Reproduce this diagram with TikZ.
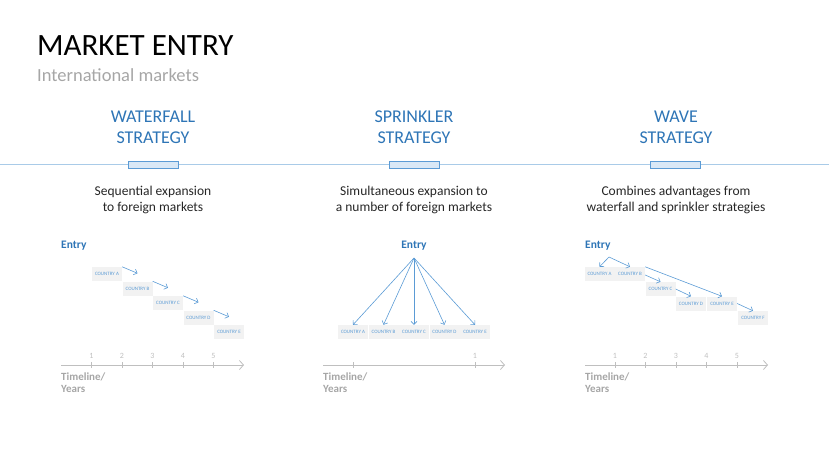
\documentclass[tikz,border=0pt]{standalone}
\usepackage{fontspec}
\setmainfont{Carlito}
\usepackage{tikz}
\usetikzlibrary{arrows.meta}
\definecolor{headblue}{HTML}{2E75B6}
\definecolor{arrowblue}{HTML}{5B9BD5}
\definecolor{lineblue}{HTML}{A9CBE8}
\definecolor{barfill}{HTML}{D9E8F6}
\definecolor{boxgray}{HTML}{F2F2F2}
\definecolor{axisgray}{HTML}{BFBFBF}
\definecolor{textgray}{HTML}{A6A6A6}

\begin{document}
\begin{tikzpicture}[x=1pt, y=-1pt,
        heading/.style={text=headblue, align=center, inner sep=0pt, font=\fontsize{18}{21}\selectfont},
        descr/.style={text=black!85, align=center, inner sep=0pt, font=\fontsize{13.5}{16.5}\selectfont},
        entry/.style={text=headblue, anchor=base, inner sep=0pt, font=\fontsize{11.5}{12}\selectfont\bfseries},
        bar/.style={draw=arrowblue, fill=barfill, line width=0.8pt, minimum width=50pt, minimum height=7pt, inner sep=0pt},
        country/.style={fill=boxgray, text=arrowblue, minimum width=30pt, minimum height=14pt, inner sep=0pt, font=\fontsize{5}{5}\selectfont},
        flow/.style={draw=arrowblue, line width=0.6pt, -{Straight Barb[length=3pt,width=6pt]}},
        axis/.style={draw=axisgray, line width=0.8pt, -{Straight Barb[length=4pt,width=9pt]}},
        year/.style={text=axisgray, anchor=base, inner sep=0pt, font=\fontsize{8}{8}\selectfont},
        timeline/.style={text=textgray, align=left, anchor=north west, inner sep=0pt, font=\fontsize{11}{11.5}\selectfont\bfseries}]
    \useasboundingbox (0,0) rectangle (829,466);

    \node[anchor=base west, inner sep=0pt, font=\fontsize{31}{31}\selectfont] (title) at (37,55) {MARKET ENTRY};
    \node[anchor=base west, inner sep=0pt, text=textgray, font=\fontsize{18.5}{18.5}\selectfont] (subtitle) at (37,81) {International markets};

    \node[heading] (headW) at (153,127) {WATERFALL\\STRATEGY};
    \node[heading] (headS) at (414,127) {SPRINKLER\\STRATEGY};
    \node[heading] (headV) at (676,127) {WAVE\\STRATEGY};

    \draw[lineblue, line width=1.2pt] (0,164.5) -- (829,164.5);
    \node[bar] (barW) at (153,164.5) {};
    \node[bar] (barS) at (414.5,164.5) {};
    \node[bar] (barV) at (675.5,164.5) {};

    \node[descr] (descW) at (153,200) {Sequential expansion\\to foreign markets};
    \node[descr] (descS) at (414,200) {Simultaneous expansion to\\a number of foreign markets};
    \node[descr] (descV) at (676,200) {Combines advantages from\\waterfall and sprinkler strategies};

    % waterfall
    \node[entry, anchor=base west] (entryW) at (61,248) {Entry};
    \node[country] (wA) at (107,274) {COUNTRY A};
    \node[country] (wB) at (137.5,288.5) {COUNTRY B};
    \node[country] (wC) at (168,303) {COUNTRY C};
    \node[country] (wD) at (198.5,317.5) {COUNTRY D};
    \node[country] (wE) at (229,332) {COUNTRY E};
    \draw[flow] (wA.north east) -- ([yshift=8pt]wB.north);
    \draw[flow] (wB.north east) -- ([yshift=8pt]wC.north);
    \draw[flow] (wC.north east) -- ([yshift=8pt]wD.north);
    \draw[flow] (wD.north east) -- ([yshift=8pt]wE.north);

    \coordinate (axWs) at (61,365);
    \coordinate (axWe) at (244,365);
    \draw[axis] (axWs) -- (axWe);
    \foreach \n/\x in {1/91.5, 2/122, 3/152.5, 4/183, 5/213.5} {
        \draw[axisgray, line width=0.8pt] (\x,362) -- (\x,368);
        \node[year] at (\x,358) {\n};
    }
    \node[timeline] (timeW) at (61,373) {Timeline/\\Years};

    % sprinkler
    \node[entry] (entryS) at (414,248) {Entry};
    \coordinate (sTop) at (414,258);
    \node[country] (sA) at (353,332) {COUNTRY A};
    \node[country] (sB) at (383.5,332) {COUNTRY B};
    \node[country] (sC) at (414,332) {COUNTRY C};
    \node[country] (sD) at (444.5,332) {COUNTRY D};
    \node[country] (sE) at (475,332) {COUNTRY E};
    \draw[flow] (sTop) -- (sA.north);
    \draw[flow] (sTop) -- (sB.north);
    \draw[flow] (sTop) -- (sC.north);
    \draw[flow] (sTop) -- (sD.north);
    \draw[flow] (sTop) -- (sE.north);

    \coordinate (axSs) at (323,365);
    \coordinate (axSe) at (505,365);
    \draw[axis] (axSs) -- (axSe);
    \draw[axisgray, line width=0.8pt] (353,362) -- (353,368);
    \draw[axisgray, line width=0.8pt] (475,362) -- (475,368);
    \node[year] at (475,358) {1};
    \node[timeline] (timeS) at (323,373) {Timeline/\\Years};

    % wave
    \node[entry, anchor=base west] (entryV) at (585,248) {Entry};
    \coordinate (vTop) at (609,257);
    \node[country] (vA) at (599.5,274) {COUNTRY A};
    \node[country] (vB) at (630,274) {COUNTRY B};
    \node[country] (vC) at (660.5,289) {COUNTRY C};
    \node[country] (vD) at (691,303.5) {COUNTRY D};
    \node[country] (vE) at (722,303.5) {COUNTRY E};
    \node[country] (vF) at (753,318) {COUNTRY F};
    \draw[flow] (vTop) -- (vA.north);
    \draw[flow] (vTop) -- (vB.north);
    \draw[flow] ([yshift=-1pt]vB.east) -- (vC.north);
    \draw[flow] (vB.north east) -- (vE.north);
    \draw[flow] (vC.east) -- (vD.north);
    \draw[flow] (vE.east) -- (vF.north);

    \coordinate (axVs) at (585,365);
    \coordinate (axVe) at (768,365);
    \draw[axis] (axVs) -- (axVe);
    \foreach \n/\x in {1/615, 2/645.5, 3/676, 4/706.5, 5/737} {
        \draw[axisgray, line width=0.8pt] (\x,362) -- (\x,368);
        \node[year] at (\x,358) {\n};
    }
    \node[timeline] (timeV) at (585,373) {Timeline/\\Years};
\end{tikzpicture}
\end{document}
